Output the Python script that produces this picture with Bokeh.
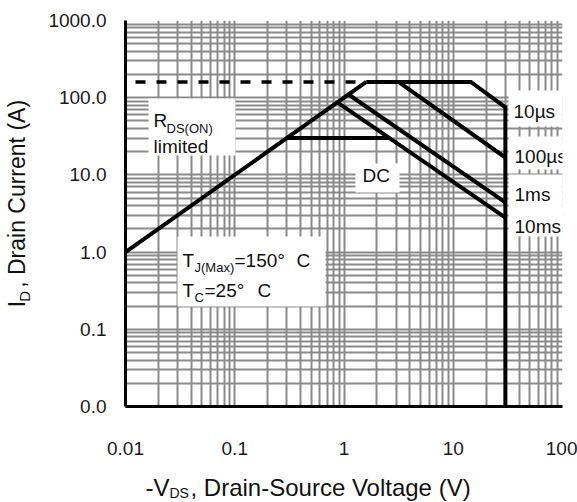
import numpy as np
from bokeh.plotting import figure
from bokeh.layouts import row, column
from bokeh.models import FixedTicker, CustomJSTickFormatter, Label, BoxAnnotation, Range1d
from bokeh.embed import file_html
from bokeh.resources import INLINE

# ---- data -------------------------------------------------------------
x_ticks = [0.01, 0.1, 1, 10, 100]
x_tick_labels = ["0.01", "0.1", "1", "10", "100"]
y_ticks = [0.01, 0.1, 1, 10, 100, 1000]
y_tick_labels = ["0.0", "0.1", "1.0", "10.0", "100.0", "1000.0"]

rds_v = [0.01, 1.6]
rds_i = [1.0, 160.0]
pulse_v = [0.01, 1.6]
pulse_i = [160.0, 160.0]
t10us_v = [1.6, 14.5, 30.0, 30.0]
t10us_i = [160.0, 160.0, 75.0, 0.01]
t100us_v = [3.15, 30.0]
t100us_i = [160.0, 16.8]
t1ms_v = [1.1, 30.0]
t1ms_i = [110.0, 4.4]
t10ms_v = [0.87, 30.0]
t10ms_i = [87.0, 2.8]
dc_v = [0.3, 2.6]
dc_i = [30.0, 30.0]

# ---- layout -----------------------------------------------------------
W, H = 577, 502
YT_W = 35          # strip holding the y-axis title
XT_H = 32          # strip holding the x-axis title
FL, FR, FT, FB = 125, 562, 20, 406   # frame edges in page pixels
FONT = "Liberation Sans"
TXT = "#111111"
MID = 0.35         # baseline -> middle of text, in em

PW, PH = W - YT_W, H - XT_H
p = figure(width=PW, height=PH, x_axis_type="log", y_axis_type="log",
           x_range=(0.01, 100), y_range=(0.01, 1000),
           output_backend="svg", toolbar_location=None,
           min_border_left=FL - YT_W, min_border_right=W - FR,
           min_border_top=FT, min_border_bottom=PH - FB)
p.outline_line_color = None
p.background_fill_color = "white"
p.border_fill_color = "white"


def dx(px):
    return 10 ** (-2 + (px - FL) / (FR - FL) * 4)


def dy(py):
    return 10 ** (3 - (py - FT) / (FB - FT) * 5)


# grid
grid_x = [m * 10.0 ** k for k in range(-2, 2) for m in range(1, 10)] + [100.0]
grid_y = [m * 10.0 ** k for k in range(-2, 3) for m in range(1, 10)] + [1000.0]
p.xgrid.ticker = FixedTicker(ticks=grid_x)
p.ygrid.ticker = FixedTicker(ticks=grid_y)
for g in (p.xgrid, p.ygrid):
    g.grid_line_color = "#8a8a8a"
    g.grid_line_width = 2

# axes
p.xaxis.ticker = FixedTicker(ticks=x_ticks, minor_ticks=[])
p.yaxis.ticker = FixedTicker(ticks=y_ticks, minor_ticks=[])
fmt_code = """
let best = 0, d = 1e9;
for (let i = 0; i < vals.length; i++) {
  const e = Math.abs(Math.log10(vals[i]) - Math.log10(tick));
  if (e < d) { d = e; best = i; }
}
return labs[best];
"""
p.xaxis.formatter = CustomJSTickFormatter(args=dict(vals=x_ticks, labs=x_tick_labels), code=fmt_code)
p.yaxis.formatter = CustomJSTickFormatter(args=dict(vals=y_ticks, labs=y_tick_labels), code=fmt_code)
for ax in (p.xaxis[0], p.yaxis[0]):
    ax.axis_line_color = "black"
    ax.axis_line_width = 3
    ax.major_tick_line_color = None
    ax.minor_tick_line_color = None
    ax.major_tick_out = 0
    ax.major_tick_in = 0
    ax.minor_tick_out = 0
    ax.major_label_text_font = FONT
    ax.major_label_text_font_size = "19px"
    ax.major_label_text_color = "#1a1a1a"
p.yaxis.major_label_standoff = 19
p.xaxis.major_label_standoff = 35

# curves
kw = dict(line_color="black", line_width=4, line_join="miter")
p.line(pulse_v, pulse_i, line_color="black", line_width=3.5, line_dash="10 11", line_dash_offset=11)
p.line(rds_v, rds_i, **kw)
p.line(t10us_v, t10us_i, **kw)
p.line(t100us_v, t100us_i, **kw)
p.line(t1ms_v, t1ms_i, **kw)
p.line(t10ms_v, t10ms_i, **kw)
p.line(dc_v, dc_i, **kw)

# white boxes behind annotation texts
boxes = [(148, 235, 98, 155), (177, 325, 236, 306), (355, 399, 163, 192),
         (508, 562, 90, 126), (508, 562, 136, 169), (508, 562, 174, 236)]
for l, r, t, b in boxes:
    p.add_layout(BoxAnnotation(left=dx(l), right=dx(r), top=dy(t), bottom=dy(b),
                               fill_color="white", fill_alpha=1.0, line_color=None))


def txt(fig, x, y, s, size, angle=0.0, baseline="middle"):
    fig.add_layout(Label(x=x, y=y, text=s, text_font=FONT,
                         text_font_size=f"{size}px", text_color=TXT,
                         text_baseline=baseline, text_align="left", angle=angle))


def ptxt(px, py, s, size):
    # (px, py) = start of the text on its baseline, in page pixels
    txt(p, dx(px), dy(py - MID * size), s, size)


# R_DS(ON) limited
ptxt(153, 127, "R", 19)
ptxt(166, 133, "DS(ON)", 13)
ptxt(153, 153, "limited", 19)
# Tj / Tc
ptxt(182, 267, "T", 19)
ptxt(194, 272, "J(Max)", 13)
ptxt(234, 267, "=150°", 19)
ptxt(296, 267, "C", 19)
ptxt(182, 297, "T", 19)
ptxt(194, 302, "C", 13)
ptxt(204, 297, "=25°", 19)
ptxt(257, 297, "C", 19)
# DC and pulse labels
ptxt(362, 182, "DC", 19)
ptxt(513, 118, "10µs", 19)
ptxt(514, 163, "100µs", 19)
ptxt(514, 201, "1ms", 19)
ptxt(514, 233, "10ms", 19)


# ---- axis-title strips (pixel coordinates, y downward) -------------------
def strip(w, h):
    f = figure(width=w, height=h, x_range=Range1d(0, w), y_range=Range1d(h, 0),
               output_backend="svg", toolbar_location=None,
               x_axis_location=None, y_axis_location=None, min_border=0)
    f.grid.visible = False
    f.outline_line_color = None
    f.background_fill_color = "white"
    f.border_fill_color = "white"
    return f


yfig = strip(YT_W, PH)
ang = np.pi / 2
Y_ADJ = 12


def ytxt(bx, by, s, size):
    # rotated text: baseline at page x = bx, text starting at page y = by
    txt(yfig, bx - MID * size, by + Y_ADJ, s, size, angle=ang, baseline="alphabetic")


ytxt(25, 337, "I", 23)
ytxt(29, 330.6, "D", 15)
ytxt(25, 313.5, ", Drain Current (A)", 23)

xfig = strip(W, XT_H)


def xtxt(bx, by, s, size):
    txt(xfig, bx, by - PH - MID * size, s, size)


xtxt(145, 495, "-V", 24)
xtxt(169, 497, "DS", 14)
xtxt(190, 495, ", Drain-Source Voltage (V)", 24)

layout = column(row(yfig, p, spacing=0), xfig, spacing=0)
open("out.html", "w").write(file_html(layout, INLINE))
